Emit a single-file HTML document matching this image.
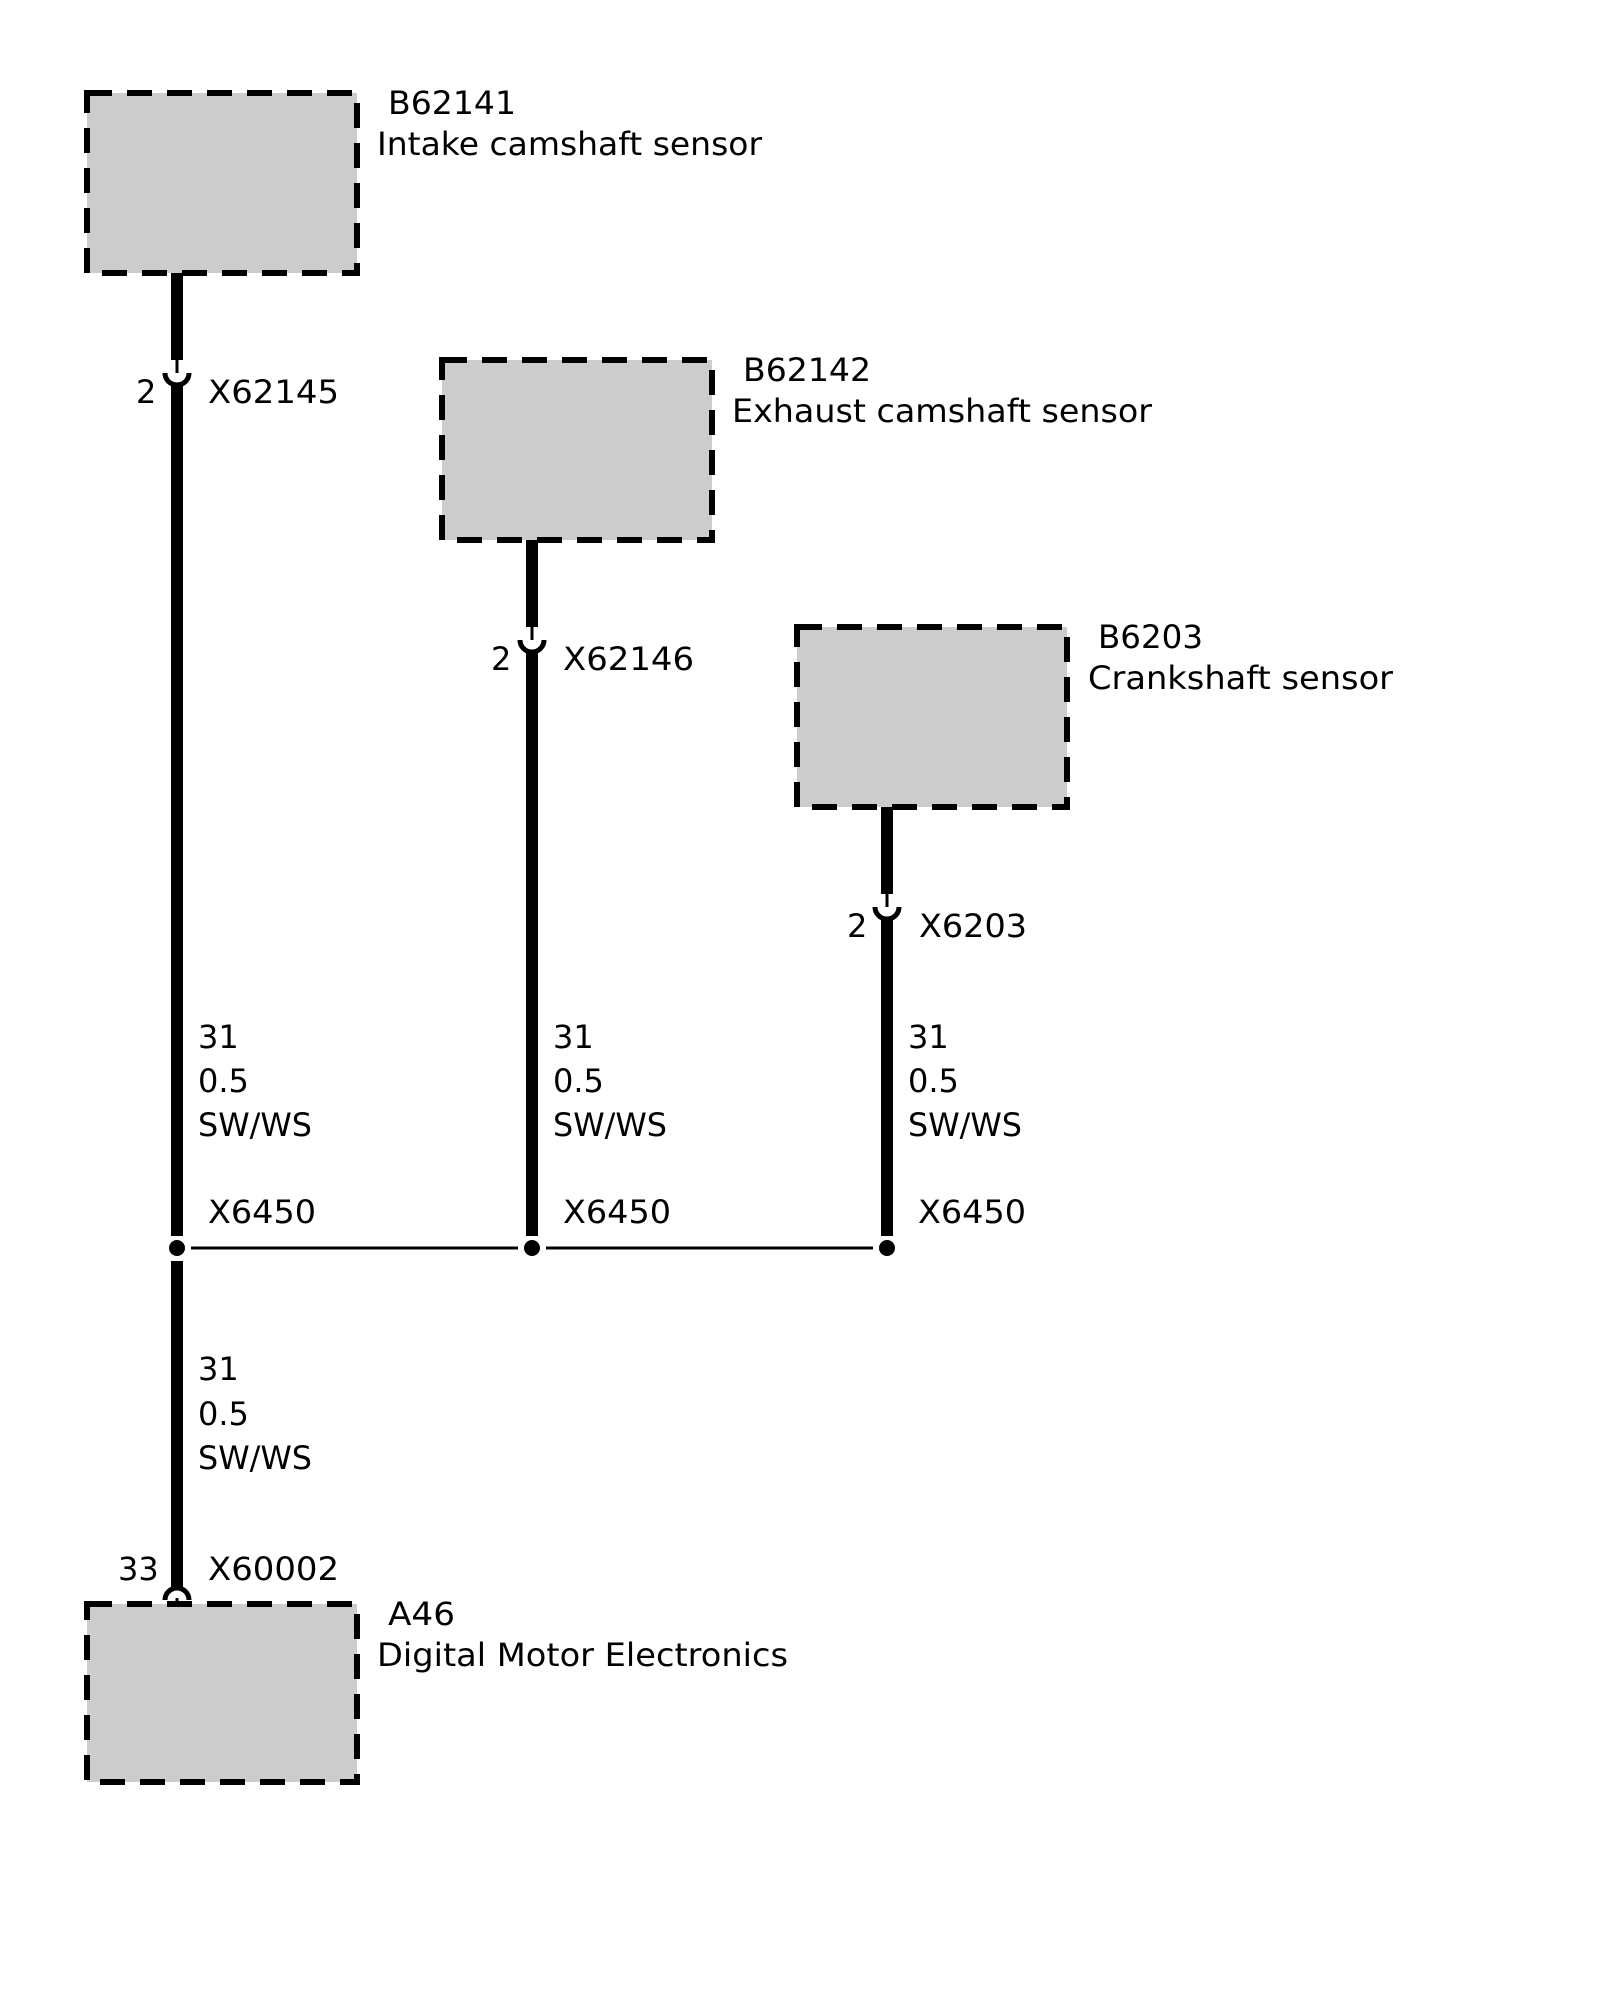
<!DOCTYPE html>
<html><head><style>html,body{margin:0;padding:0;background:#fff}svg{display:block}</style></head>
<body>
<svg width="1600" height="2000" viewBox="0 0 1600 2000" xmlns="http://www.w3.org/2000/svg" font-family="'DejaVu Sans','Liberation Sans',sans-serif" font-size="32" fill="#000">
<g fill="#cccccc" stroke="#000" stroke-width="6" stroke-dasharray="25 15">
<rect x="87" y="93" width="270" height="180"/>
<rect x="442" y="360" width="270" height="180"/>
<rect x="797" y="627" width="270" height="180"/>
<rect x="87" y="1604" width="270" height="178"/>
</g>
<g stroke="#000" fill="none">
<line x1="177" y1="273" x2="177" y2="360" stroke-width="12"/>
<line x1="177" y1="360" x2="177" y2="373" stroke-width="3"/>
<path d="M165 373 A12 12 0 0 0 189 373" stroke-width="5"/>
<line x1="177" y1="383" x2="177" y2="1236" stroke-width="12"/>
<line x1="177" y1="1261" x2="177" y2="1588" stroke-width="12"/>
<path d="M165 1600 A12 12 0 0 1 189 1600" stroke-width="5"/>
<line x1="177" y1="1598" x2="177" y2="1604" stroke-width="3"/>
<line x1="532" y1="540" x2="532" y2="627" stroke-width="12"/>
<line x1="532" y1="627" x2="532" y2="640" stroke-width="3"/>
<path d="M520 640 A12 12 0 0 0 544 640" stroke-width="5"/>
<line x1="532" y1="650" x2="532" y2="1236" stroke-width="12"/>
<line x1="887" y1="807" x2="887" y2="894" stroke-width="12"/>
<line x1="887" y1="894" x2="887" y2="907" stroke-width="3"/>
<path d="M875 907 A12 12 0 0 0 899 907" stroke-width="5"/>
<line x1="887" y1="917" x2="887" y2="1236" stroke-width="12"/>
<line x1="191" y1="1248" x2="518" y2="1248" stroke-width="3"/>
<line x1="546" y1="1248" x2="873" y2="1248" stroke-width="3"/>
</g>
<circle cx="177" cy="1248" r="8"/><circle cx="532" cy="1248" r="8"/><circle cx="887" cy="1248" r="8"/>
<text x="388" y="114" textLength="128" lengthAdjust="spacingAndGlyphs">B62141</text>
<text x="377" y="155" textLength="385" lengthAdjust="spacingAndGlyphs">Intake camshaft sensor</text>
<text x="743" y="381" textLength="128" lengthAdjust="spacingAndGlyphs">B62142</text>
<text x="732" y="422" textLength="420" lengthAdjust="spacingAndGlyphs">Exhaust camshaft sensor</text>
<text x="1098" y="648" textLength="105" lengthAdjust="spacingAndGlyphs">B6203</text>
<text x="1088" y="689" textLength="305" lengthAdjust="spacingAndGlyphs">Crankshaft sensor</text>
<text x="388" y="1625" textLength="67" lengthAdjust="spacingAndGlyphs">A46</text>
<text x="377" y="1666" textLength="411" lengthAdjust="spacingAndGlyphs">Digital Motor Electronics</text>
<text x="136" y="403">2</text><text x="208" y="403" textLength="131" lengthAdjust="spacingAndGlyphs">X62145</text>
<text x="491" y="670">2</text><text x="563" y="670" textLength="131" lengthAdjust="spacingAndGlyphs">X62146</text>
<text x="847" y="937">2</text><text x="919" y="937" textLength="108" lengthAdjust="spacingAndGlyphs">X6203</text>
<text x="118" y="1580">33</text><text x="208" y="1580" textLength="131" lengthAdjust="spacingAndGlyphs">X60002</text>
<text x="208" y="1223" textLength="108" lengthAdjust="spacingAndGlyphs">X6450</text>
<text x="563" y="1223" textLength="108" lengthAdjust="spacingAndGlyphs">X6450</text>
<text x="918" y="1223" textLength="108" lengthAdjust="spacingAndGlyphs">X6450</text>
<g>
<text x="198" y="1048">31</text><text x="198" y="1092">0.5</text><text x="198" y="1136" textLength="114" lengthAdjust="spacingAndGlyphs">SW/WS</text>
<text x="553" y="1048">31</text><text x="553" y="1092">0.5</text><text x="553" y="1136" textLength="114" lengthAdjust="spacingAndGlyphs">SW/WS</text>
<text x="908" y="1048">31</text><text x="908" y="1092">0.5</text><text x="908" y="1136" textLength="114" lengthAdjust="spacingAndGlyphs">SW/WS</text>
<text x="198" y="1380">31</text><text x="198" y="1425">0.5</text><text x="198" y="1469" textLength="114" lengthAdjust="spacingAndGlyphs">SW/WS</text>
</g>
</svg>
</body></html>
